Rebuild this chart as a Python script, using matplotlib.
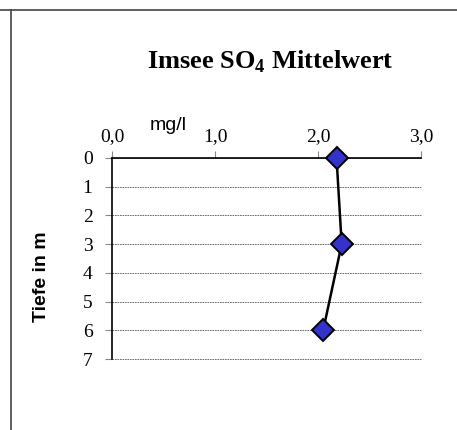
import matplotlib
matplotlib.use("Agg")
import matplotlib.pyplot as plt
from matplotlib.lines import Line2D

plt.rcParams["mathtext.fontset"] = "custom"
plt.rcParams["mathtext.rm"] = "Liberation Serif:bold"
plt.rcParams["mathtext.bf"] = "Liberation Serif:bold"

# data
tiefe = [0, 3, 6]
so4 = [2.18, 2.23, 2.05]
x_ticks = [0.0, 1.0, 2.0, 3.0]
x_labels = ["0,0", "1,0", "2,0", "3,0"]
y_ticks = [0, 1, 2, 3, 4, 5, 6, 7]

W, H = 457, 430
fig = plt.figure(figsize=(W / 100, H / 100), dpi=100)
ax = fig.add_axes([112 / W, 1 - 359 / H, (421 - 112) / W, (359 - 158) / H])

ax.plot(so4, tiefe, color="black", lw=1.8, marker="D", markersize=11,
        markerfacecolor="#3333cc", markeredgecolor="black", markeredgewidth=1.4,
        clip_on=False, zorder=5)

ax.set_xlim(0, 3)
ax.set_ylim(7, 0)
ax.xaxis.tick_top()
ax.set_xticks(x_ticks)
ax.set_xticklabels(x_labels, family="Liberation Serif", fontsize=14)
ax.set_yticks(y_ticks)
ax.set_yticklabels([str(t) for t in y_ticks], family="Liberation Serif", fontsize=14)
ax.tick_params(axis="x", length=5, width=0.8, color="#888888", pad=4)
ax.tick_params(axis="y", length=5, width=0.8, color="#888888", pad=9)

ax.yaxis.grid(True, linestyle=(0, (2, 1)), color="#555555", lw=0.6)
for gl in ax.get_ygridlines():
    gl.set_clip_on(False)
for s in ["right", "bottom"]:
    ax.spines[s].set_visible(False)
ax.spines["top"].set_linewidth(1.2)
ax.spines["left"].set_linewidth(1.2)

fig.text(270 / W, 1 - 62 / H, r"Imsee SO$_\mathbf{4}$ Mittelwert", ha="center", va="center",
         family="Liberation Serif", fontweight="bold", fontsize=19)
fig.text(168 / W, 1 - 125 / H, "mg/l", ha="center", va="center",
         family="Liberation Sans", fontsize=14)
fig.text(41 / W, 1 - 277 / H, "Tiefe in m", ha="center", va="center", rotation=90,
         family="Liberation Sans", fontweight="bold", fontsize=14)

# outer frame lines
fig.add_artist(Line2D([0, 1], [1 - 10 / H, 1 - 10 / H], transform=fig.transFigure,
                      color="#444444", lw=1.2))
fig.add_artist(Line2D([11 / W, 11 / W], [0, 1 - 10 / H], transform=fig.transFigure,
                      color="#444444", lw=1.2))

fig.savefig("out.png", dpi=100)
